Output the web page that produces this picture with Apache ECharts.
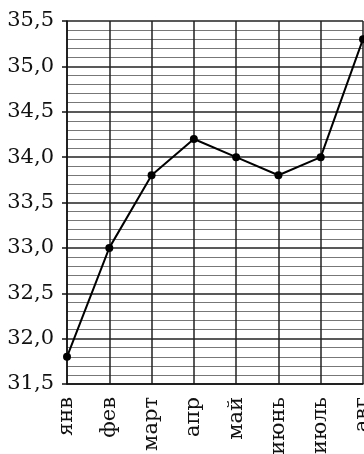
<!DOCTYPE html>
<html><head><meta charset="utf-8">
<script src="https://cdn.jsdelivr.net/npm/echarts@6/dist/echarts.min.js"></script>
<style>html,body{margin:0;padding:0;background:#fff}#c{width:364px;height:454px}</style>
</head><body><div id="c"></div>
<script>
const months = ['янв','фев','март','апр','май','июнь','июль','авг'];
const values = [31.8, 33.0, 33.8, 34.2, 34.0, 33.8, 34.0, 35.3];
const yTicks = [31.5, 32.0, 32.5, 33.0, 33.5, 34.0, 34.5, 35.0, 35.5];
const yTickLabels = ['31,5','32,0','32,5','33,0','33,5','34,0','34,5','35,0','35,5'];

const chart = echarts.init(document.getElementById('c'));
chart.setOption({
  animation: false,
  grid: {left: 67, right: 1, top: 21, bottom: 70, containLabel: false, outerBoundsMode: 'none'},
  xAxis: {
    type: 'category', data: months, boundaryGap: false,
    axisLine: {show: true, lineStyle: {color: '#111', width: 1.5}},
    axisTick: {show: false},
    axisLabel: {rotate: 90, margin: 13, color: '#111', fontFamily: 'DejaVu Serif', fontSize: 21, hideOverlap: false},
    splitLine: {show: true, lineStyle: {color: '#222', width: 1.5}}
  },
  yAxis: {
    type: 'value', min: 31.5, max: 35.5, interval: 0.5,
    axisLine: {show: true, lineStyle: {color: '#111', width: 1.5}},
    axisTick: {show: true, length: 5, lineStyle: {color: '#111', width: 1.5}},
    axisLabel: {margin: 13, color: '#111', fontFamily: 'DejaVu Serif', fontSize: 21,
      formatter: v => { const i = yTicks.findIndex(t => Math.abs(t - v) < 1e-6); return i >= 0 ? yTickLabels[i] : ''; }},
    splitLine: {show: true, lineStyle: {color: '#222', width: 1.5}},
    minorTick: {show: false, splitNumber: 5},
    minorSplitLine: {show: true, lineStyle: {color: '#777', width: 1}}
  },
  series: [{
    type: 'line', data: values,
    symbol: 'circle', symbolSize: 8,
    itemStyle: {color: '#000'},
    lineStyle: {color: '#000', width: 2},
    clip: false
  }]
});
</script></body></html>
